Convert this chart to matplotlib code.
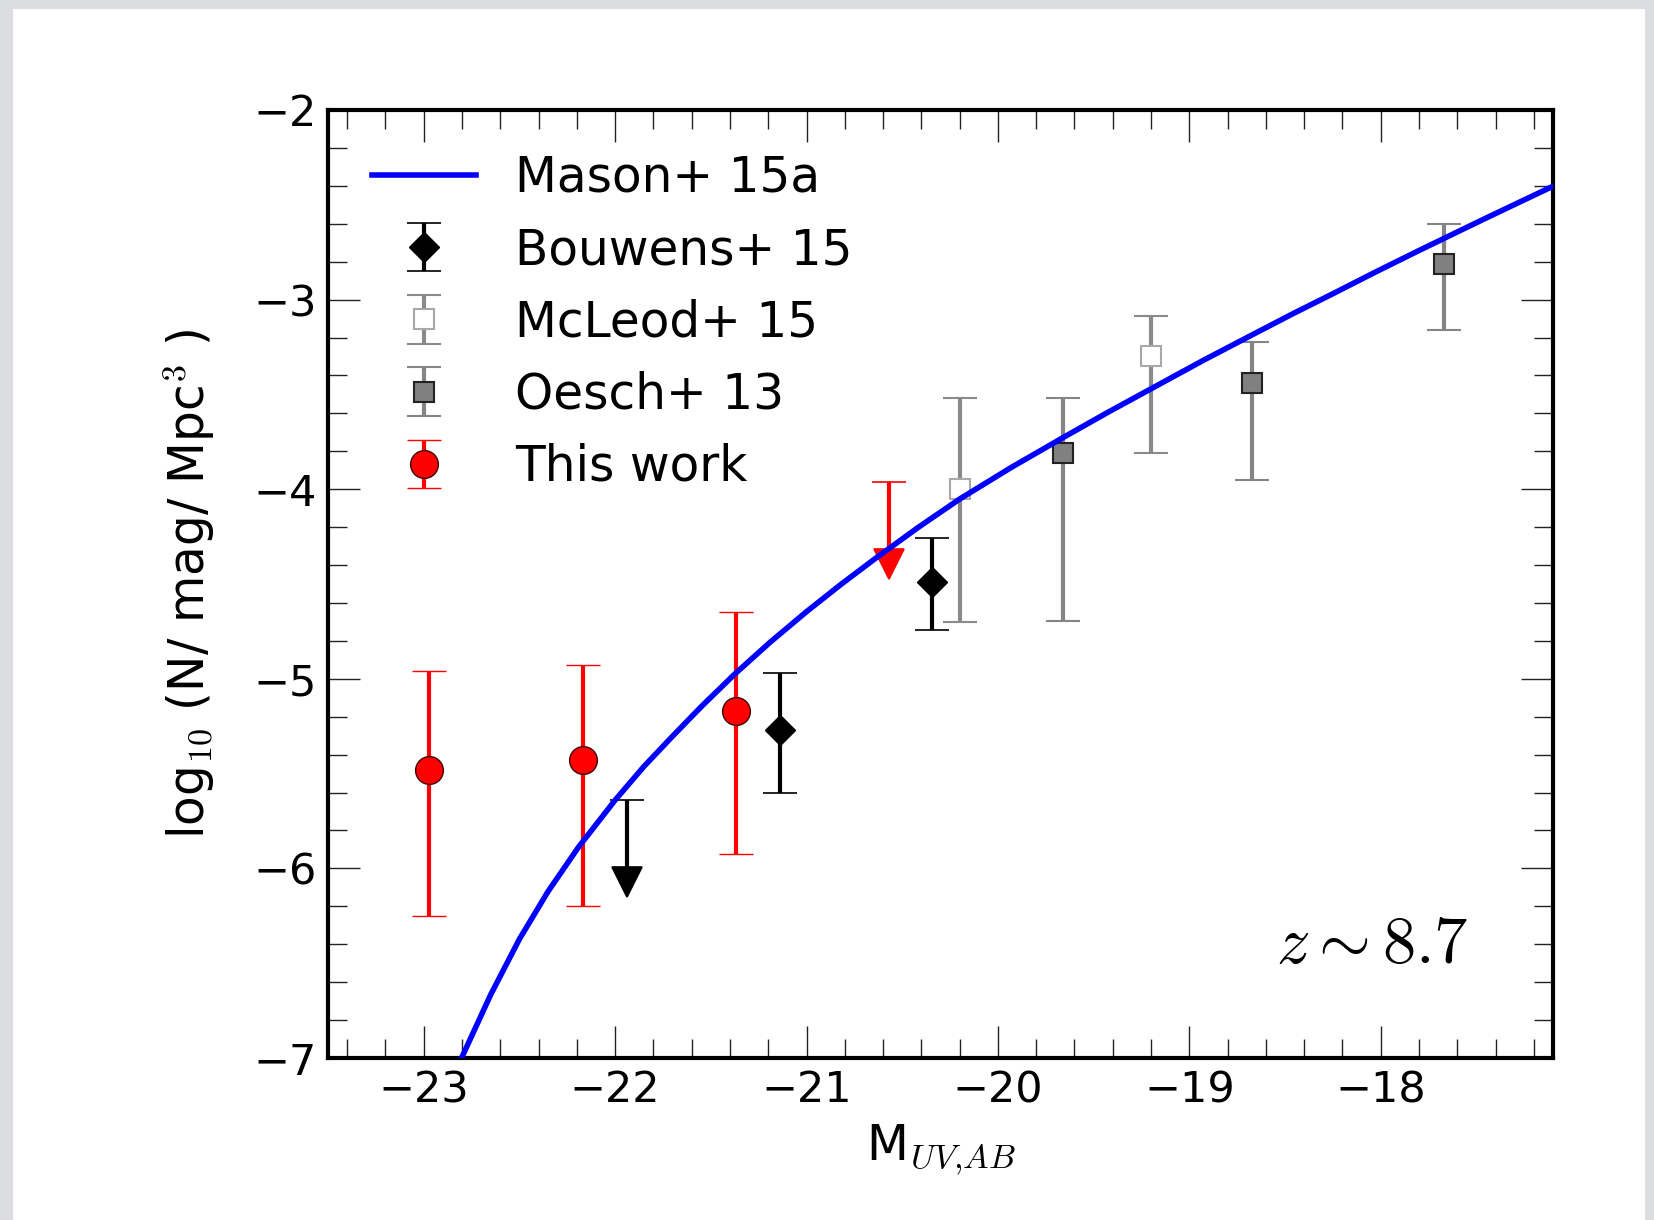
import numpy as np
import matplotlib
matplotlib.use('Agg')
import matplotlib.pyplot as plt
import matplotlib.lines as mlines
from matplotlib.patches import Rectangle

plt.rcParams['font.family'] = 'DejaVu Sans'
plt.rcParams['mathtext.fontset'] = 'cm'

# Mason+15a model LF at z~8.7
mason_M = [-22.80, -22.65, -22.50, -22.35, -22.19, -22.00, -21.85, -21.70,
           -21.55, -21.375, -21.19, -21.00, -20.82, -20.64, -20.42, -20.20,
           -19.93, -19.66, -19.43, -19.19, -18.93, -18.67, -18.46, -18.25,
           -18.03, -17.80, -17.45, -17.10]
mason_phi = [-6.995, -6.666, -6.373, -6.121, -5.886, -5.640, -5.463, -5.303,
             -5.147, -4.975, -4.807, -4.646, -4.502, -4.365, -4.204, -4.052,
             -3.885, -3.728, -3.597, -3.465, -3.322, -3.185, -3.075, -2.969,
             -2.856, -2.741, -2.570, -2.402]

# Bouwens+15
bouwens_M = [-21.14, -20.345]
bouwens_phi = [-5.27, -4.49]
bouwens_lo = [0.33, 0.25]
bouwens_hi = [0.30, 0.23]
bouwens_lim_M = [-21.94]
bouwens_lim_phi = [-5.64]
bouwens_lim_len = [0.43]

# McLeod+15
mcleod_M = [-20.20, -19.20]
mcleod_phi = [-4.00, -3.30]
mcleod_lo = [0.70, 0.51]
mcleod_hi = [0.48, 0.215]

# Oesch+13
oesch_M = [-19.66, -18.67, -17.67]
oesch_phi = [-3.81, -3.44, -2.81]
oesch_lo = [0.885, 0.51, 0.35]
oesch_hi = [0.29, 0.215, 0.21]

# this work
ours_M = [-22.97, -22.17, -21.37]
ours_phi = [-5.48, -5.43, -5.17]
ours_lo = [0.77, 0.77, 0.754]
ours_hi = [0.52, 0.505, 0.524]
ours_lim_M = [-20.57]
ours_lim_phi = [-3.96]
ours_lim_len = [0.435]

fig = plt.figure(figsize=(16.54, 12.20), dpi=100, facecolor='#dcdde1')
fig.patches.append(Rectangle((13 / 1654, 0), 1632 / 1654, 1211 / 1220,
                             transform=fig.transFigure, facecolor='white',
                             edgecolor='none', zorder=-10))
ax = fig.add_axes([328 / 1654, 1 - 1058 / 1220, 1225 / 1654, 948 / 1220])

eb_kw = dict(elinewidth=3, capsize=12, capthick=1.2, linestyle='none')


def upper_limit(x, y, length, color):
    # errorbar with a filled arrow head at the lower end
    eb = ax.errorbar(x, y, yerr=length, uplims=True, fmt='none', ecolor=color,
                     elinewidth=3, capsize=12, capthick=1.2, zorder=2)
    for cap in eb[1]:
        if cap.get_marker() == mlines.CARETDOWNBASE:
            cap.set_marker('v')
            cap.set_markersize(21)
            cap.set_markerfacecolor(color)
            cap.set_markeredgecolor(color)
    return eb


h_bouwens = ax.errorbar(bouwens_M, bouwens_phi, yerr=[bouwens_lo, bouwens_hi],
                        fmt='D', color='black', ms=15, ecolor='black', zorder=2, **eb_kw)
upper_limit(bouwens_lim_M, bouwens_lim_phi, bouwens_lim_len, 'black')

h_mcleod = ax.errorbar(mcleod_M, mcleod_phi, yerr=[mcleod_lo, mcleod_hi],
                       fmt='s', mfc='white', mec='#a8a8a8', mew=1.5, ms=15,
                       ecolor='#8a8a8a', zorder=2, **eb_kw)

h_oesch = ax.errorbar(oesch_M, oesch_phi, yerr=[oesch_lo, oesch_hi],
                      fmt='s', mfc='#808080', mec='#222222', mew=1.5, ms=15,
                      ecolor='#858585', zorder=2, **eb_kw)

h_ours = ax.errorbar(ours_M, ours_phi, yerr=[ours_lo, ours_hi],
                     fmt='o', mfc='red', mec='#400000', mew=1, ms=20,
                     ecolor='red', zorder=2, **eb_kw)
upper_limit(ours_lim_M, ours_lim_phi, ours_lim_len, 'red')

h_mason, = ax.plot(mason_M, mason_phi, color='blue', lw=4, zorder=3,
                   solid_joinstyle='round')

ax.set_xlim(-23.5, -17.1)
ax.set_ylim(-7, -2)
ax.set_xticks(np.arange(-23, -17.5, 1))
ax.set_xticks(np.arange(-23.4, -17.05, 0.2), minor=True)
ax.set_yticks(np.arange(-7, -1.5, 1))
ax.set_yticks(np.arange(-6.8, -2.05, 0.2), minor=True)
ax.tick_params(which='both', direction='in', top=True, right=True,
               labelsize=31, pad=8, color='#222222')
ax.tick_params(which='major', length=23, width=1.0)
ax.tick_params(which='minor', length=13.5, width=1.0)
for sp in ax.spines.values():
    sp.set_linewidth(3)

ax.set_xlabel(r'M$_{UV{,}AB}$', fontsize=35, labelpad=8)
ax.set_ylabel(r'log$_{10}$ (N/ mag/ Mpc$^3$ )', fontsize=35, labelpad=26)

ax.text(0.931, 0.100, r'$z\sim8.7$', transform=ax.transAxes, fontsize=48,
        ha='right', va='baseline')

ax.legend([h_mason, h_bouwens, h_mcleod, h_oesch, h_ours],
          ['Mason+ 15a', 'Bouwens+ 15', 'McLeod+ 15', 'Oesch+ 13', 'This work'],
          loc='upper left', frameon=False, fontsize=35, handlelength=2.15,
          handletextpad=0.8, labelspacing=0.50, borderaxespad=0.5, numpoints=1)

fig.savefig('out.png', dpi=100, facecolor=fig.get_facecolor())
